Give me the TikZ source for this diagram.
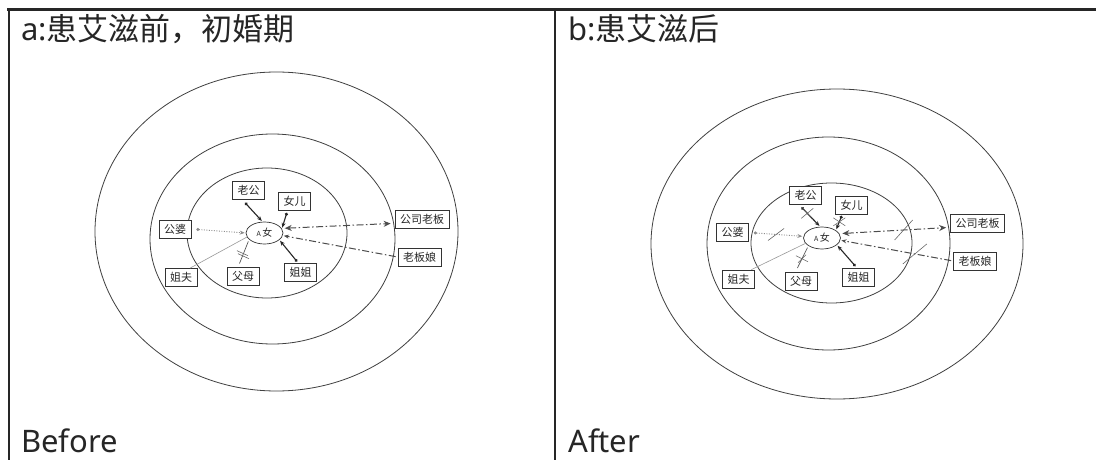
\documentclass[tikz,border=0pt]{standalone}
\usepackage{fontspec}
\setmainfont{Noto Sans}
\newfontfamily\cjk{Noto Sans CJK SC}
\usetikzlibrary{shapes.geometric,arrows.meta}
\begin{document}
\begin{tikzpicture}[x=1pt,y=-1pt,
  ring/.style={draw=black!75, line width=0.8pt},
  frameline/.style={draw=black!85, line width=2pt},
  title/.style={anchor=base west, inner sep=0pt, font=\fontsize{31}{34}\selectfont, text=black!85},
  pbox/.style={draw=black!80, line width=0.75pt, fill=white, rectangle, inner xsep=5pt, inner ysep=2pt, minimum height=18pt, font=\cjk\fontsize{11}{12}\selectfont, text=black!85},
  ego/.style={draw=black!80, line width=0.7pt, fill=white, ellipse, minimum width=37pt, minimum height=22pt, inner sep=0pt, font=\cjk\fontsize{10}{11}\selectfont, text=black!85},
  tie/.style={draw=black!85, line width=1.1pt},
  thintie/.style={draw=black!65, line width=0.7pt},
  dd/.style={draw=black!70, line width=1pt, dash pattern=on 7pt off 2.5pt on 1.5pt off 2.5pt},
  dots/.style={draw=black!45, line width=0.9pt, dash pattern=on 1pt off 1.5pt},
  faint/.style={draw=black!40, line width=0.6pt},
  cutmark/.style={draw=black!60, line width=0.6pt},
  tipdot/.tip={Circle[length=3pt]},
  tiparr/.tip={Stealth[length=5pt,width=4pt]},
  bigarr/.tip={Stealth[length=7pt,width=6pt]}
]
\useasboundingbox (0,0) rectangle (1096,460);
\fill[white] (0,0) rectangle (1096,460);

% table frame
\draw[frameline, line width=2.5pt] (7,9.5) -- (1096,9.5);
\draw[frameline] (8.5,9.5) -- (8.5,460);
\draw[frameline] (555,9.5) -- (555,460);

% titles
\node[title] (t1) at (21,41) {a:{\cjk 患艾滋前，初婚期}};
\node[title] (t2) at (568,41) {b:{\cjk 患艾滋后}};
\node[title] (t3) at (21,452) {Before};
\node[title] (t4) at (568,452) {After};

% ===== left diagram =====
\draw[ring] (276.5,231.5) ellipse [x radius=181.5pt, y radius=159.5pt];
\draw[ring] (272.5,239) ellipse [x radius=122.5pt, y radius=105pt];
\draw[ring] (267,233) ellipse [x radius=80pt, y radius=65pt];

\node[ego] (A1) at (264.5,233) {{\fontsize{7}{8}\selectfont A}\,女};
\node[pbox] (lg1) at (248.5,190.5) {老公};
\node[pbox] (ne1) at (294.5,201.5) {女儿};
\node[pbox] (gp1) at (175,229) {公婆};
\node[pbox] (bs1) at (422,219) {公司老板};
\node[pbox] (bn1) at (419.5,257) {老板娘};
\node[pbox] (jf1) at (181,277.5) {姐夫};
\node[pbox] (fm1) at (243,276.5) {父母};
\node[pbox] (jj1) at (300.5,272.5) {姐姐};

\draw[tie, tipdot-tiparr, shorten <=4pt, shorten >=1pt] (lg1.237) -- (A1.100);
\draw[tie, tipdot-tiparr, shorten <=2pt, shorten >=1pt] (ne1.233) -- (A1.14);
\draw[dots, tipdot-tiparr, shorten <=5pt, shorten >=1pt] (gp1.east) -- (A1.west);
\draw[dd, bigarr-bigarr, shorten <=3pt, shorten >=4pt] (A1.15) -- (bs1.189);
\draw[dd, -tiparr, shorten <=2pt, shorten >=1pt] (bn1.west) -- (A1.-8);
\draw[tie, tiparr-tipdot, shorten <=1pt, shorten >=2pt] (A1.-25) -- (jj1.103);
\draw[faint] (jf1.46) -- (A1.193);
\draw[thintie, shorten <=4pt, shorten >=2pt] (fm1.118) -- (A1.203);
\path (fm1.118) -- (A1.203) coordinate[pos=.45] (c1);
\draw[cutmark] ([shift={(-6,-4)}]c1) -- ([shift={(5,1)}]c1);
\draw[cutmark] ([shift={(-5,-1)}]c1) -- ([shift={(6,4)}]c1);

% ===== right diagram =====
\draw[ring] (837,244) ellipse [x radius=186pt, y radius=155pt];
\draw[ring] (828.5,243.5) ellipse [x radius=121.5pt, y radius=106.5pt];
\draw[ring] (831.5,243) ellipse [x radius=80.5pt, y radius=60pt];

\node[ego] (A2) at (822,238) {{\fontsize{7}{8}\selectfont A}\,女};
\node[pbox] (lg2) at (805.5,195) {老公};
\node[pbox] (ne2) at (851.5,205.5) {女儿};
\node[pbox] (gp2) at (732.5,232.5) {公婆};
\node[pbox] (bs2) at (977.5,223.5) {公司老板};
\node[pbox] (bn2) at (975,261) {老板娘};
\node[pbox] (jf2) at (738.5,279) {姐夫};
\node[pbox] (fm2) at (801,281) {父母};
\node[pbox] (jj2) at (858.5,277) {姐姐};

\draw[tie, tipdot-tiparr, shorten <=4pt, shorten >=1pt] (lg2.234) -- (A2.99);
\draw[tie, tipdot-tiparr, shorten <=1pt, shorten >=1pt] (ne2.225) -- (A2.29);
\draw[dots, tipdot-tiparr, shorten <=5pt, shorten >=1pt] (gp2.east) -- (A2.175);
\draw[dd, bigarr-bigarr, shorten <=3pt, shorten >=4pt] (A2.14) -- (bs2.188);
\draw[dd, -tiparr, shorten <=2pt, shorten >=1pt] (bn2.west) -- (A2.-7);
\draw[tie, tiparr-tipdot, shorten <=1pt, shorten >=2pt] (A2.-25) -- (jj2.101);
\draw[faint] (jf2.36) -- (A2.198);
\draw[thintie, shorten <=4pt, shorten >=2pt] (fm2.120) -- (A2.210);

% break marks
\path (lg2.234) -- (A2.99) coordinate[pos=.4] (c2);
\draw[cutmark] ([shift={(-6,5)}]c2) -- ([shift={(6,-5)}]c2);
\draw[cutmark] ([shift={(-5,-6)}]c2) -- ([shift={(5,6)}]c2);
\path (ne2.225) -- (A2.29) coordinate[pos=.45] (c3);
\draw[cutmark] ([shift={(-6,-4)}]c3) -- ([shift={(6,4)}]c3);
\draw[cutmark] ([shift={(-6,4)}]c3) -- ([shift={(6,-4)}]c3);
\path (fm2.120) -- (A2.210) coordinate[pos=.5] (c4);
\draw[cutmark] ([shift={(-6,-3)}]c4) -- ([shift={(6,3)}]c4);
\draw[cutmark] ([shift={(-4,4)}]c4) -- ([shift={(4,-4)}]c4);
\path (gp2.east) -- (A2.175) coordinate[pos=.5] (c5);
\draw[cutmark] ([shift={(-8,6)}]c5) -- ([shift={(8,-6)}]c5);
\path (A2.14) -- (bs2.188) coordinate[pos=.58] (c6);
\draw[cutmark] ([shift={(-9,10)}]c6) -- ([shift={(9,-10)}]c6);
\path (bn2.west) -- (A2.-7) coordinate[pos=.34] (c7);
\draw[cutmark] ([shift={(-12,10)}]c7) -- ([shift={(12,-10)}]c7);
\end{tikzpicture}
\end{document}
